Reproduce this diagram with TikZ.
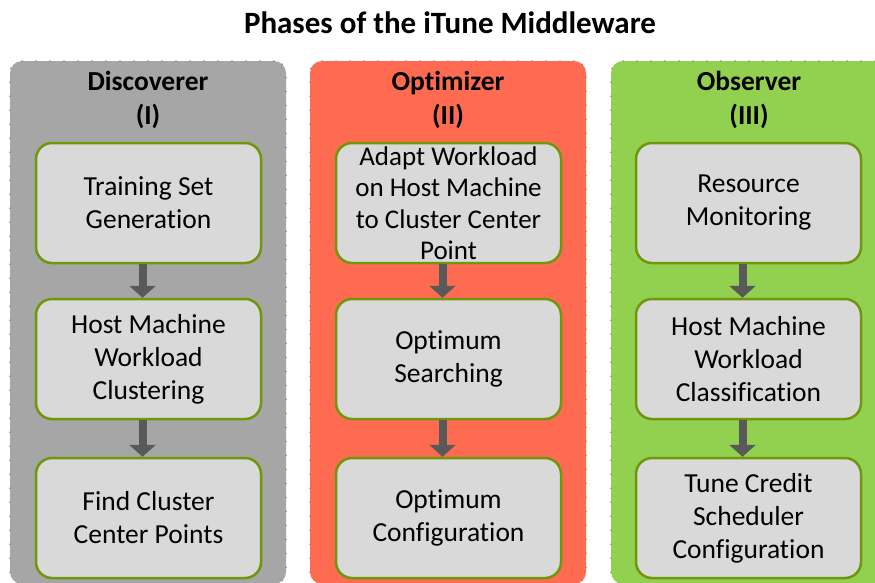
\documentclass[tikz,border=0pt]{standalone}
\usepackage{fontspec}
\setmainfont{Carlito}[Ligatures=NoCommon]
\usetikzlibrary{arrows.meta,positioning}
\definecolor{discgray}{RGB}{166,166,166}
\definecolor{optred}{RGB}{255,107,80}
\definecolor{obsgreen}{RGB}{146,208,80}
\definecolor{taskfill}{RGB}{217,217,217}
\definecolor{taskolive}{RGB}{112,150,10}
\definecolor{arrowgray}{RGB}{89,89,89}
\definecolor{dotgray}{RGB}{140,140,140}

\tikzset{
  panel/.style={draw=dotgray, line width=1.8pt, line cap=round,
    dash pattern=on 0pt off 14pt, rounded corners=12pt,
    minimum width=276pt, minimum height=523pt, inner sep=0pt},
  phasehead/.style={font=\fontsize{27.5}{34}\selectfont\bfseries, align=center},
  task/.style={draw=taskolive, fill=taskfill, line width=2.5pt,
    rounded corners=16pt, minimum width=225pt, minimum height=120pt,
    inner sep=0pt, align=center, font=\fontsize{27.5}{33}\selectfont},
  flow/.style={-{Triangle[width=26pt,length=12pt]}, line width=8pt, arrowgray}
}

\begin{document}
\begin{tikzpicture}[x=1pt,y=-1pt]
\clip (0,0) rectangle (875,582);
% -- Title --
\node[font=\fontsize{31}{36}\selectfont\bfseries] (title) at (450,23) {Phases of the iTune Middleware};
% -- Panels --
\node[panel, fill=discgray] (disc) at (148,322.5) {};
\node[panel, fill=optred] (opt) at (448,322.5) {};
\node[panel, fill=obsgreen] (obs) at (749,322.5) {};
\node[phasehead] (dischead) at (148,100) {Discoverer\\(I)};
\node[phasehead] (opthead) at (448,100) {Optimizer\\(II)};
\node[phasehead] (obshead) at (749,100) {Observer\\(III)};
% -- Discoverer --
\node[task] (d1) at (148.5,203) {Training Set\\Generation};
\node[task] (d2) at (148.5,359) {Host Machine\\Workload\\Clustering};
\node[task] (d3) at (148.5,518) {Find Cluster\\Center Points};
% -- Optimizer --
\node[task, font=\fontsize{27}{31.5}\selectfont] (o1) at (448.5,203) {Adapt Workload\\on Host Machine\\to Cluster Center\\Point};
\node[task] (o2) at (448.5,359) {Optimum\\Searching};
\node[task] (o3) at (448.5,518) {Optimum\\Configuration};
% -- Observer --
\node[task] (b1) at (748.5,203) {Resource\\Monitoring};
\node[task] (b2) at (748.5,359) {Host Machine\\Workload\\Classification};
\node[task] (b3) at (748.5,518) {Tune Credit\\Scheduler\\Configuration};
% Arrows between steps
\foreach \a/\b in {d1/d2, d2/d3, o1/o2, o2/o3, b1/b2, b2/b3} {
  \draw[flow] ([xshift=-6pt]\a.south) -- ([xshift=-6pt]\b.north);
}
\end{tikzpicture}
\end{document}
